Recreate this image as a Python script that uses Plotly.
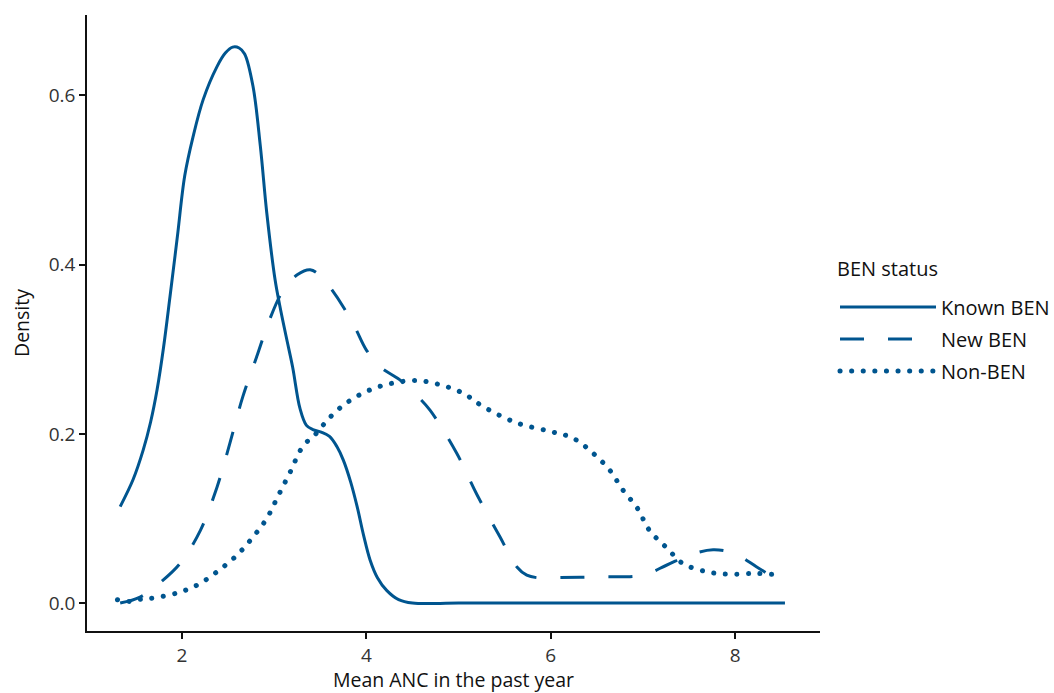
import plotly.graph_objects as go

# Known BEN density curve
known_x = [1.33, 1.47, 1.58, 1.66, 1.73, 1.80, 1.87, 1.95, 2.03, 2.12, 2.23, 2.38, 2.47, 2.55, 2.62, 2.68,
           2.77, 2.85, 2.92, 3.01, 3.06, 3.13, 3.20, 3.28, 3.35, 3.42, 3.51, 3.60, 3.68, 3.75, 3.83, 3.90,
           3.97, 4.04, 4.12, 4.22, 4.35, 4.50, 5.0, 6.0, 7.0, 8.0, 8.54]
known_y = [0.114, 0.146, 0.181, 0.214, 0.252, 0.302, 0.362, 0.433, 0.505, 0.551, 0.595, 0.634, 0.650, 0.657, 0.656, 0.649,
           0.611, 0.540, 0.461, 0.382, 0.352, 0.315, 0.279, 0.230, 0.210, 0.205, 0.202, 0.197, 0.185, 0.169, 0.143, 0.114,
           0.080, 0.051, 0.030, 0.015, 0.004, 0.0, 0.0, 0.0, 0.0, 0.0, 0.0]

# New BEN density curve
new_x = [1.33, 1.545, 1.76, 1.98, 2.20, 2.38, 2.52, 2.66, 2.81, 2.95, 3.10, 3.25, 3.39, 3.50, 3.60,
         3.75, 3.88, 4.00, 4.15, 4.36, 4.55, 4.69, 4.98, 5.20, 5.45, 5.63, 5.74, 5.85, 5.99, 6.53, 7.0,
         7.26, 7.51, 7.76, 7.98, 8.23, 8.54]
new_y = [0.0, 0.007, 0.024, 0.047, 0.086, 0.137, 0.189, 0.244, 0.291, 0.335, 0.370, 0.388, 0.394, 0.387, 0.374,
         0.350, 0.325, 0.299, 0.279, 0.264, 0.245, 0.228, 0.177, 0.128, 0.078, 0.043, 0.033, 0.030, 0.030, 0.031, 0.033,
         0.045, 0.057, 0.063, 0.059, 0.043, 0.021]

# Non-BEN density curve
non_x = [1.30, 1.44, 1.57, 1.69, 1.95, 2.16, 2.38, 2.60, 2.77, 2.92, 3.04, 3.17, 3.31, 3.46, 3.60,
         3.79, 4.04, 4.29, 4.55, 4.80, 5.05, 5.27, 5.63, 5.99, 6.24, 6.46, 6.64, 6.78, 6.94, 7.07,
         7.26, 7.43, 7.69, 7.94, 8.20, 8.40]
non_y = [0.004, 0.002, 0.005, 0.006, 0.012, 0.021, 0.037, 0.057, 0.078, 0.100, 0.126, 0.154, 0.185, 0.201, 0.219,
         0.237, 0.252, 0.260, 0.263, 0.258, 0.248, 0.232, 0.213, 0.203, 0.195, 0.177, 0.157, 0.134, 0.112, 0.086,
         0.065, 0.047, 0.037, 0.034, 0.035, 0.034]

series_names = ["Known BEN", "New BEN", "Non-BEN"]
legend_title = "BEN status"
x_ticks = [2, 4, 6, 8]
y_ticks = [0.0, 0.2, 0.4, 0.6]
y_tick_labels = ["0.0", "0.2", "0.4", "0.6"]

color = "#00558F"
font_family = "'Open Sans', sans-serif"

fig = go.Figure()
fig.add_trace(go.Scatter(x=known_x, y=known_y, mode="lines", name=series_names[0], legendgroup="a",
                         line=dict(color=color, width=3, shape="spline", smoothing=1.0)))
fig.add_trace(go.Scatter(x=new_x, y=new_y, mode="lines", name=series_names[1], legendgroup="b",
                         line=dict(color=color, width=3, shape="spline", smoothing=1.0, dash="24px,24px")))
fig.add_trace(go.Scatter(x=non_x, y=non_y, mode="lines", name=series_names[2], legendgroup="c",
                         line=dict(color=color, width=5, shape="spline", smoothing=1.0, dash="0.1px,11.5px")))

fig.add_annotation(text=legend_title, xref="paper", yref="paper",
                   x=(835 - 87) / 733, y=(631 - 268) / 616, xanchor="left", yanchor="middle",
                   showarrow=False, font=dict(size=20, color="#111111"))

fig.update_layout(
    width=1054, height=693,
    margin=dict(l=87, r=234, t=15, b=62, autoexpand=False),
    paper_bgcolor="white", plot_bgcolor="white",
    font=dict(family=font_family, size=19, color="#333333"),
    legend=dict(
        x=(835 - 87) / 733, xanchor="left", y=(631 - 339) / 616, yanchor="middle",
        font=dict(size=20, color="#111111"),
        itemwidth=96, tracegroupgap=3,
        bgcolor="rgba(0,0,0,0)",
    ),
    xaxis=dict(
        range=[0.97, 8.92], tickvals=x_ticks, ticks="outside", ticklen=6, tickwidth=1.5,
        tickcolor="#111111", showline=True, linecolor="#111111", linewidth=1.5,
        showgrid=False, zeroline=False, automargin=False,
        title=dict(text="Mean ANC in the past year", font=dict(size=19.5, color="#111111"), standoff=5),
    ),
    yaxis=dict(
        range=[-0.033, 0.695], tickvals=y_ticks, ticktext=y_tick_labels, ticks="outside", ticklen=6,
        tickwidth=1.5, tickcolor="#111111", showline=True, linecolor="#111111", linewidth=1.5,
        showgrid=False, zeroline=False, automargin=False,
        title=dict(text="Density", font=dict(size=19.5, color="#111111"), standoff=14),
    ),
)

post = """
document.body.style.margin = '0';
function roundDots(){
  document.querySelectorAll('path.js-line').forEach(function(p){
    var d = p.style.strokeDasharray || p.getAttribute('stroke-dasharray') || '';
    if (d.indexOf('0.1') === 0) { p.style.strokeLinecap = 'round'; }
  });
}
roundDots();
var gd = document.getElementsByClassName('plotly-graph-div')[0];
if (gd && gd.on) { gd.on('plotly_afterplot', roundDots); }
"""

fig.write_html("out.html", post_script=post, config={"displayModeBar": False})
